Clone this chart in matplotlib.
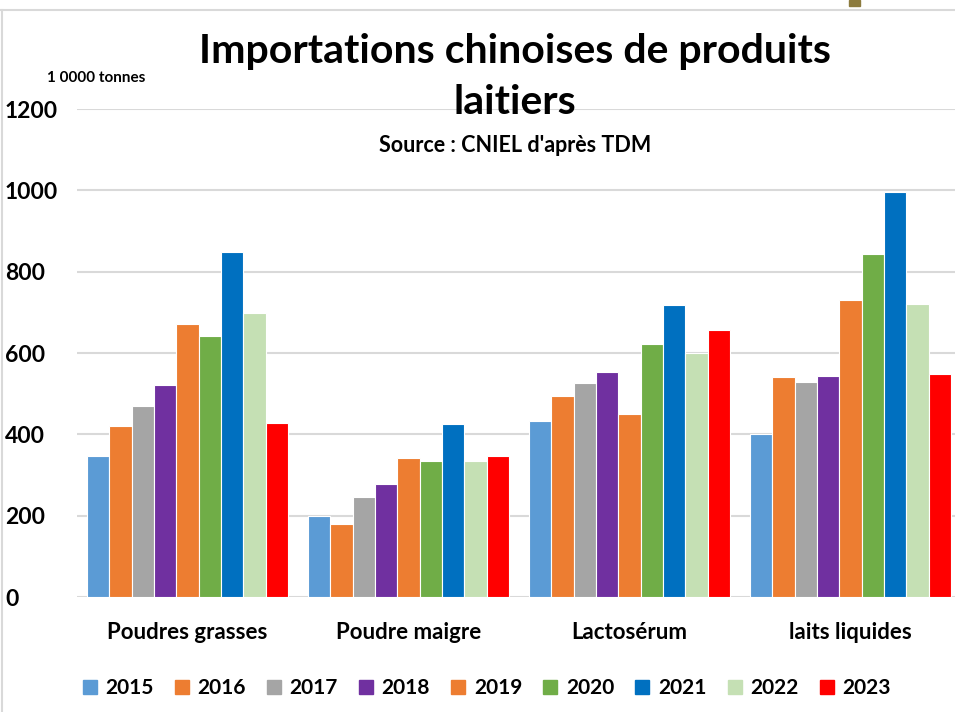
import matplotlib.pyplot as plt
import numpy as np
from matplotlib.lines import Line2D
from matplotlib.patches import Rectangle

categories = ["Poudres grasses", "Poudre maigre", "Lactosérum", "laits liquides"]
years = ["2015", "2016", "2017", "2018", "2019", "2020", "2021", "2022", "2023"]
v2015 = [347, 199, 433, 401]
v2016 = [421, 180, 494, 542]
v2017 = [470, 245, 526, 528]
v2018 = [521, 279, 554, 544]
v2019 = [671, 342, 449, 730]
v2020 = [642, 335, 622, 844]
v2021 = [848, 426, 717, 995]
v2022 = [699, 335, 600, 720]
v2023 = [429, 346, 656, 548]
series = [v2015, v2016, v2017, v2018, v2019, v2020, v2021, v2022, v2023]
colors = ["#5B9BD5", "#ED7D31", "#A5A5A5", "#7030A0", "#ED7D31",
          "#70AD47", "#0070C0", "#C5E0B4", "#FF0000"]

plt.rcParams["font.family"] = ["Lato", "DejaVu Sans"]
WT = "bold"

W, H = 955, 712
fig = plt.figure(figsize=(W / 100, H / 100), dpi=100)
ax = fig.add_axes([77 / W, (H - 597) / H, (955 - 77) / W, (597 - 109) / H])

# bars, grouped by category
x = np.arange(len(categories))
bw = 0.101
for i, (vals, col) in enumerate(zip(series, colors)):
    ax.bar(x + (i - 4) * bw, vals, width=bw, color=col, edgecolor="white",
           linewidth=0.8, label=years[i], zorder=3)

ax.set_ylim(0, 1200)
ax.set_xlim(-0.5, 3.473)
ax.set_yticks(range(0, 1201, 200))
ax.yaxis.grid(True, color="#d9d9d9", linewidth=1.5, zorder=0)
for s in ax.spines.values():
    s.set_visible(False)
ax.tick_params(axis="both", length=0)
ax.set_yticklabels([str(v) for v in range(0, 1201, 200)], fontsize=16.5,
                   fontweight=WT)
ax.set_xticks(x)
ax.set_xticklabels(categories, fontsize=16, fontweight=WT)
ax.tick_params(axis="x", pad=18)
for lab in ax.get_yticklabels():
    lab.set_horizontalalignment("left")
    lab.set_x(-72 / 878)
    lab.set_transform(ax.get_yaxis_transform())

# titles
fig.text(515 / W, 1 - 51 / H, "Importations chinoises de produits",
         ha="center", va="center", fontsize=29.5, fontweight=WT)
fig.text(515 / W, 1 - 103 / H, "laitiers",
         ha="center", va="center", fontsize=29.5, fontweight=WT)
fig.text(515 / W, 1 - 146 / H, "Source : CNIEL d'après TDM",
         ha="center", va="center", fontsize=15.5, fontweight=WT)
fig.text(47 / W, 1 - 78 / H, "1 0000 tonnes",
         ha="left", va="center", fontsize=11, fontweight=WT)

# legend along the bottom
handles = [Line2D([], [], marker="s", linestyle="none", markersize=10,
                  markerfacecolor=c, markeredgecolor=c) for c in colors]
fig.legend(handles, years, loc="center", bbox_to_anchor=(486 / W, 1 - 688 / H),
           ncol=9, frameon=False, handlelength=0.8, handletextpad=0.35,
           columnspacing=0.95, prop={"size": 15, "weight": WT})

# frame bits from the slide
fig.add_artist(Line2D([0, 1], [1 - 9.5 / H, 1 - 9.5 / H], color="#d9d9d9",
                      linewidth=1.5, transform=fig.transFigure))
fig.add_artist(Line2D([2 / W, 2 / W], [0, 1 - 9.5 / H], color="#d9d9d9",
                      linewidth=1.5, transform=fig.transFigure))
fig.add_artist(Rectangle((849 / W, 1 - 6 / H), 11 / W, 6 / H,
                         color="#8C7B3E", transform=fig.transFigure))

fig.savefig("out.png", dpi=100)
